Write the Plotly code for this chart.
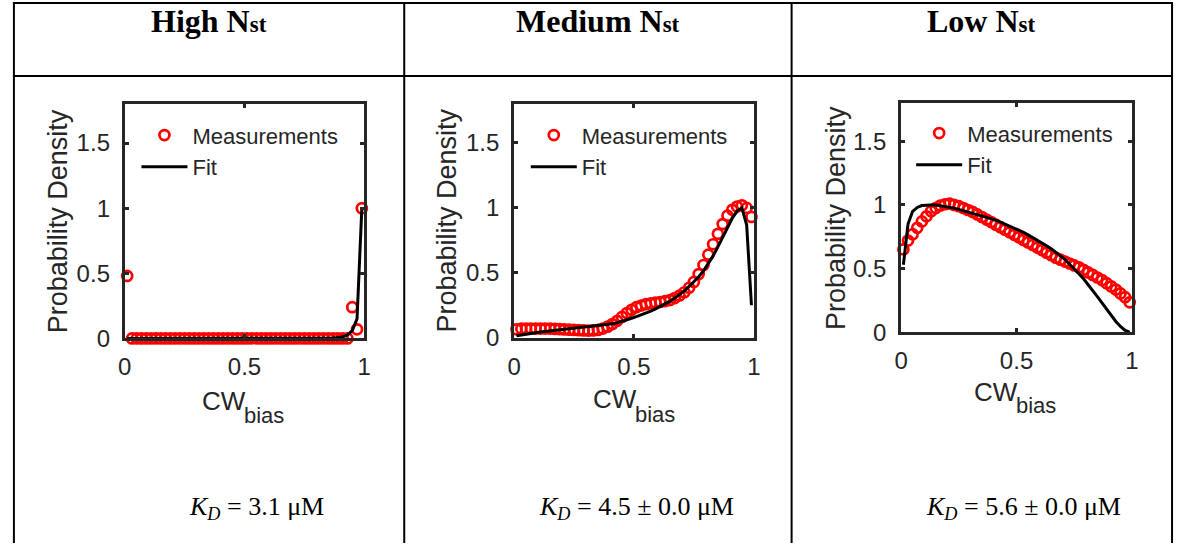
import plotly.graph_objects as go

W, H = 1182, 556

# bin centres of the CW bias histogram
cw_bias = [0.01, 0.03, 0.05, 0.07, 0.09, 0.11, 0.13, 0.15, 0.17, 0.19,
           0.21, 0.23, 0.25, 0.27, 0.29, 0.31, 0.33, 0.35, 0.37, 0.39,
           0.41, 0.43, 0.45, 0.47, 0.49, 0.51, 0.53, 0.55, 0.57, 0.59,
           0.61, 0.63, 0.65, 0.67, 0.69, 0.71, 0.73, 0.75, 0.77, 0.79,
           0.81, 0.83, 0.85, 0.87, 0.89, 0.91, 0.93, 0.95, 0.97, 0.99]

high_meas = [0.48, 0.0, 0.0, 0.0, 0.0, 0.0, 0.0, 0.0, 0.0, 0.0,
             0.0, 0.0, 0.0, 0.0, 0.0, 0.0, 0.0, 0.0, 0.0, 0.0,
             0.0, 0.0, 0.0, 0.0, 0.0, 0.0, 0.0, 0.0, 0.0, 0.0,
             0.0, 0.0, 0.0, 0.0, 0.0, 0.0, 0.0, 0.0, 0.0, 0.0,
             0.0, 0.0, 0.0, 0.0, 0.0, 0.0, 0.0, 0.24, 0.07, 1.0]
high_fit = [0.0, 0.0, 0.0, 0.0, 0.0, 0.0, 0.0, 0.0, 0.0, 0.0,
            0.0, 0.0, 0.0, 0.0, 0.0, 0.0, 0.0, 0.0, 0.0, 0.0,
            0.0, 0.0, 0.0, 0.0, 0.0, 0.0, 0.0, 0.0, 0.0, 0.0,
            0.0, 0.0, 0.0, 0.0, 0.0, 0.0, 0.0, 0.0, 0.0, 0.0,
            0.0, 0.0, 0.0, 0.003, 0.006, 0.012, 0.025, 0.06, 0.15, 1.0]

med_meas = [0.065, 0.07, 0.07, 0.07, 0.07, 0.07, 0.07, 0.07, 0.068, 0.066,
            0.064, 0.062, 0.06, 0.058, 0.056, 0.055, 0.056, 0.06, 0.07, 0.085,
            0.105, 0.13, 0.16, 0.19, 0.215, 0.235, 0.248, 0.258, 0.265, 0.27,
            0.275, 0.282, 0.29, 0.305, 0.325, 0.35, 0.385, 0.43, 0.49, 0.56,
            0.64, 0.72, 0.80, 0.875, 0.94, 0.985, 1.01, 1.02, 1.0, 0.93]
med_fit = [0.015, 0.022, 0.028, 0.034, 0.039, 0.044, 0.048, 0.052, 0.056, 0.06,
           0.064, 0.068, 0.072, 0.076, 0.08, 0.084, 0.088, 0.092, 0.097, 0.102,
           0.107, 0.115, 0.125, 0.137, 0.15, 0.162, 0.175, 0.19, 0.205, 0.222,
           0.24, 0.26, 0.282, 0.305, 0.33, 0.36, 0.395, 0.43, 0.47, 0.515,
           0.57, 0.63, 0.70, 0.775, 0.85, 0.92, 0.975, 1.0, 0.87, 0.25]

low_meas = [0.65, 0.72, 0.77, 0.82, 0.87, 0.91, 0.95, 0.975, 0.995, 1.005,
            1.01, 1.0, 0.99, 0.975, 0.96, 0.945, 0.925, 0.905, 0.885, 0.865,
            0.845, 0.825, 0.805, 0.785, 0.765, 0.745, 0.725, 0.705, 0.685, 0.665,
            0.645, 0.625, 0.605, 0.585, 0.57, 0.555, 0.54, 0.525, 0.51, 0.49,
            0.47, 0.45, 0.43, 0.41, 0.385, 0.36, 0.335, 0.305, 0.275, 0.235]
low_fit = [0.53, 0.85, 0.95, 0.98, 0.995, 1.0, 1.0, 1.0, 0.995, 0.99,
           0.985, 0.975, 0.965, 0.955, 0.945, 0.935, 0.925, 0.915, 0.905, 0.895,
           0.88, 0.865, 0.85, 0.835, 0.82, 0.80, 0.785, 0.765, 0.745, 0.725,
           0.705, 0.68, 0.655, 0.63, 0.60, 0.57, 0.535, 0.5, 0.46, 0.42,
           0.375, 0.33, 0.28, 0.23, 0.18, 0.13, 0.085, 0.045, 0.015, 0.0]

headers = ["High", "Medium", "Low"]
kd_values = ["3.1 μM", "4.5 ± 0.0 μM", "5.6 ± 0.0 μM"]
x_ticks = [0, 0.5, 1]
y_ticks = [0, 0.5, 1, 1.5]

SANS = "Liberation Sans, Arial, Helvetica, sans-serif"
SERIF = "Liberation Serif, Times New Roman, serif"
AX = "#262626"
RED = "#ff0000"


def px_x(v):
    return v / W


def px_y(v):
    return 1 - v / H


# plot boxes in pixels: left, right, top, bottom
boxes = [(119.2, 361.5, 106.5, 346.5),
         (513.2, 755.8, 106.5, 345.8),
         (904.8, 1138.5, 105.5, 340.2)]
series = [(high_meas, high_fit), (med_meas, med_fit), (low_meas, low_fit)]
legend_pos = [(131, 117), (525, 117), (915, 115)]
ylab_x = [51.7, 445, 838.3]
# x-title: split point between "CW" and "bias", baseline-centred heights
xlab = [(240.5, 411, 425.4), (636.8, 409, 424.1), (1022.3, 401, 415.7)]
header_x = [204.5, 598, 986.5]
kd_x = [252, 637.5, 1029]

fig = go.Figure()

for i, ((meas, fit), (l, r, t, b)) in enumerate(zip(series, boxes)):
    k = "" if i == 0 else str(i + 1)
    leg = "legend" + k
    fig.add_trace(go.Scatter(
        x=cw_bias, y=meas, mode="markers", name="Measurements",
        marker=dict(symbol="circle-open", size=10, color=RED, line=dict(width=2.7, color=RED)),
        xaxis="x" + k, yaxis="y" + k, legend=leg, cliponaxis=False))
    fig.add_trace(go.Scatter(
        x=cw_bias, y=fit, mode="lines", name="Fit",
        line=dict(color="black", width=3),
        xaxis="x" + k, yaxis="y" + k, legend=leg, cliponaxis=False))

    axis_common = dict(
        showline=True, linewidth=3, linecolor=AX, mirror="ticks",
        ticks="inside", ticklen=4, tickwidth=2.5, tickcolor=AX,
        showgrid=False, zeroline=False,
        tickfont=dict(family=SANS, size=24, color=AX))
    fig.layout["xaxis" + k] = dict(
        axis_common, domain=[px_x(l), px_x(r)], range=[0, 1],
        tickvals=x_ticks, ticktext=["0", "0.5", "1"],
        anchor="y" + k, ticklabelstandoff=5)
    fig.layout["yaxis" + k] = dict(
        axis_common, domain=[px_y(b), px_y(t)], range=[0, 1.8],
        tickvals=y_ticks, ticktext=["0", "0.5", "1", "1.5"],
        anchor="x" + k, ticklabelstandoff=7)

    lx, ly = legend_pos[i]
    fig.layout[leg] = dict(
        x=px_x(lx), y=px_y(ly), xanchor="left", yanchor="top",
        bgcolor="rgba(0,0,0,0)", borderwidth=0, itemwidth=46,
        font=dict(family=SANS, size=22, color=AX), tracegroupgap=0)

    # axis titles
    fig.add_annotation(
        x=px_x(ylab_x[i]), y=px_y((t + b) / 2), xref="paper", yref="paper",
        text="Probability Density", textangle=-90, showarrow=False,
        xanchor="center", yanchor="middle",
        font=dict(family=SANS, size=27, color=AX))
    sx, cw_y, bias_y = xlab[i]
    fig.add_annotation(
        x=px_x(sx + 1), y=px_y(cw_y), xref="paper", yref="paper",
        text="CW", showarrow=False, xanchor="right", yanchor="middle",
        borderpad=0, borderwidth=0,
        font=dict(family=SANS, size=26, color=AX))
    fig.add_annotation(
        x=px_x(sx - 1), y=px_y(bias_y), xref="paper", yref="paper",
        text="bias", showarrow=False, xanchor="left", yanchor="middle",
        borderpad=0, borderwidth=0,
        font=dict(family=SANS, size=22, color=AX))

    # column header and dissociation constant
    fig.add_annotation(
        x=px_x(header_x[i]), y=px_y(21), xref="paper", yref="paper",
        text='<b>%s N<span style="font-size:23px">st</span></b>' % headers[i],
        showarrow=False, xanchor="center", yanchor="middle",
        font=dict(family=SERIF, size=32, color="black"))
    fig.add_annotation(
        x=px_x(kd_x[i]), y=px_y(520), xref="paper", yref="paper",
        text="<i>K</i><sub><i>D</i></sub> = %s" % kd_values[i],
        showarrow=False, xanchor="center", yanchor="middle",
        font=dict(family=SERIF, size=26, color="black"))

# table rules
line = dict(color="black", width=2)
for yv in (3, 77.7):
    fig.add_shape(type="line", xref="paper", yref="paper",
                  x0=px_x(6), x1=px_x(1180), y0=px_y(yv), y1=px_y(yv), line=line)
for xv in (7, 402, 794, 1179):
    fig.add_shape(type="line", xref="paper", yref="paper",
                  x0=px_x(xv), x1=px_x(xv), y0=px_y(2), y1=px_y(H), line=line)

fig.update_layout(
    width=W, height=H, margin=dict(l=0, r=0, t=0, b=0),
    paper_bgcolor="white", plot_bgcolor="white", showlegend=True)

fig.write_html("out.html")
